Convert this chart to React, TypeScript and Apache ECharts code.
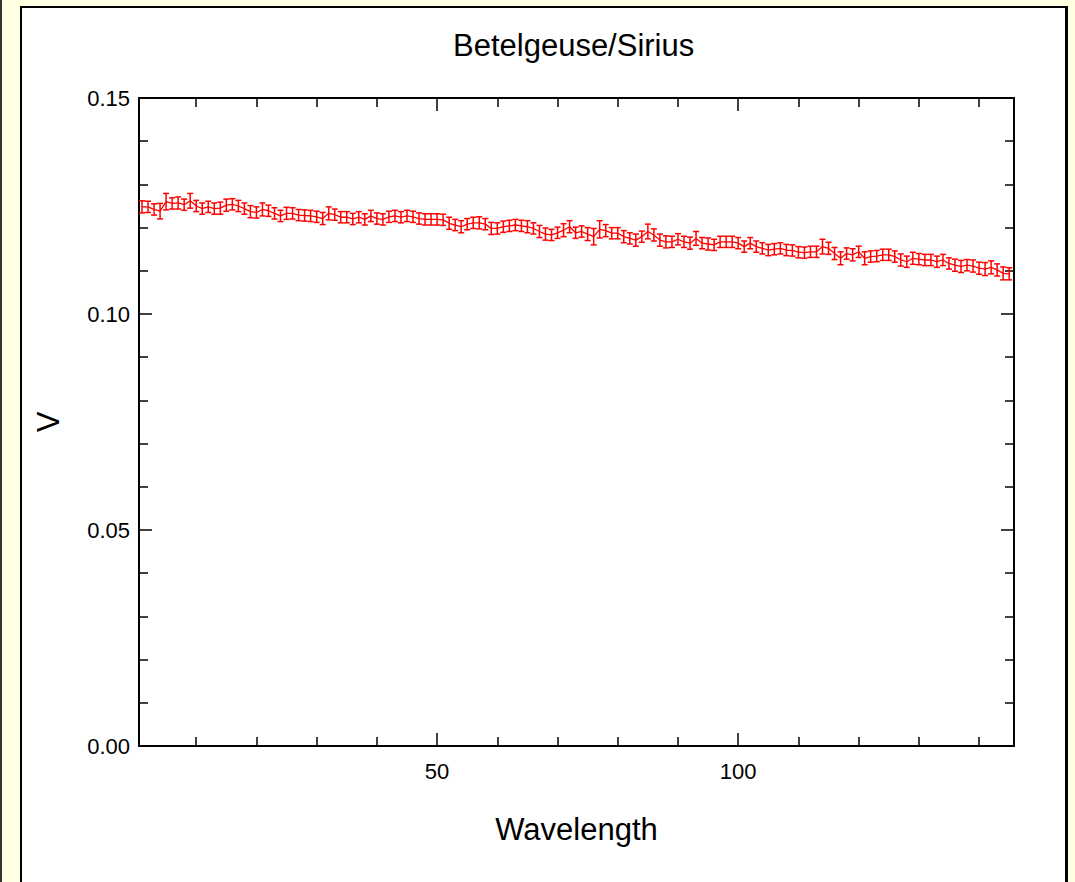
import React, { useEffect, useRef } from "react";
import * as echarts from "echarts";

const TITLE = "Betelgeuse/Sirius";
const X_NAME = "Wavelength";
const Y_NAME = "V";

const values: number[] = [
  0.1248, 0.1248, 0.1242, 0.1238, 0.126, 0.1256, 0.1257, 0.1253, 0.1262, 0.125,
  0.1244, 0.1248, 0.1244, 0.1245, 0.1252, 0.1254, 0.125, 0.1244, 0.1237, 0.1235,
  0.1242, 0.1239, 0.1233, 0.1227, 0.1233, 0.1233, 0.1229, 0.1228, 0.1227, 0.1225,
  0.1221, 0.1233, 0.123, 0.1224, 0.1224, 0.122, 0.1224, 0.1219, 0.1227, 0.1221,
  0.1219, 0.1225, 0.1227, 0.1224, 0.1227, 0.1225, 0.1221, 0.1219, 0.1219, 0.1219,
  0.1218, 0.121, 0.1206, 0.1202, 0.1208, 0.1211, 0.1211, 0.1208, 0.1198, 0.1198,
  0.1202, 0.1204, 0.1206, 0.1204, 0.1202, 0.1198, 0.1191, 0.1185, 0.1183, 0.1188,
  0.1194, 0.1202, 0.1188, 0.1191, 0.1185, 0.1179, 0.1196, 0.1193, 0.1187, 0.1187,
  0.1179, 0.1175, 0.1171, 0.1179, 0.1191, 0.1183, 0.1171, 0.1167, 0.1167, 0.1173,
  0.1167, 0.1164, 0.1175, 0.1164, 0.1162, 0.116, 0.1167, 0.1167, 0.1167, 0.1164,
  0.1156, 0.1164, 0.1156, 0.1152, 0.1148, 0.115, 0.1152, 0.1148, 0.1147, 0.1143,
  0.1142, 0.1144, 0.1144, 0.1156, 0.1152, 0.114, 0.1129, 0.114, 0.1137, 0.1144,
  0.1129, 0.1133, 0.1134, 0.1137, 0.1137, 0.1133, 0.1125, 0.1121, 0.1129, 0.1127,
  0.1125, 0.1125, 0.1121, 0.1125, 0.1117, 0.1113, 0.111, 0.1113, 0.1111, 0.1106,
  0.1104, 0.1108, 0.1102, 0.1094, 0.1093,
];

const errors: number[] = [
  0.0014, 0.0013, 0.0013, 0.0018, 0.0019, 0.0013, 0.0014, 0.0013, 0.0017, 0.0013,
  0.0013, 0.0013, 0.0013, 0.0014, 0.0014, 0.0013, 0.0013, 0.0013, 0.0014, 0.0013,
  0.0015, 0.0013, 0.0013, 0.0013, 0.0014, 0.0013, 0.0013, 0.0013, 0.0013, 0.0013,
  0.0014, 0.0015, 0.0013, 0.0013, 0.0013, 0.0013, 0.0013, 0.0013, 0.0013, 0.0013,
  0.0013, 0.0013, 0.0013, 0.0013, 0.0013, 0.0013, 0.0013, 0.0013, 0.0013, 0.0013,
  0.0013, 0.0014, 0.0013, 0.0014, 0.0013, 0.0013, 0.0014, 0.0013, 0.0014, 0.0013,
  0.0013, 0.0013, 0.0013, 0.0013, 0.0014, 0.0013, 0.0014, 0.0014, 0.0013, 0.0013,
  0.0015, 0.0014, 0.0013, 0.0013, 0.0015, 0.0019, 0.0020, 0.0014, 0.0013, 0.0013,
  0.0014, 0.0013, 0.0014, 0.0013, 0.0017, 0.0014, 0.0014, 0.0014, 0.0013, 0.0013,
  0.0013, 0.0014, 0.0016, 0.0013, 0.0014, 0.0013, 0.0013, 0.0013, 0.0013, 0.0013,
  0.0013, 0.0013, 0.0013, 0.0013, 0.0013, 0.0013, 0.0013, 0.0013, 0.0013, 0.0013,
  0.0013, 0.0013, 0.0013, 0.0017, 0.0014, 0.0014, 0.0015, 0.0013, 0.0014, 0.0013,
  0.0015, 0.0013, 0.0013, 0.0013, 0.0013, 0.0013, 0.0014, 0.0013, 0.0014, 0.0013,
  0.0013, 0.0013, 0.0013, 0.0013, 0.0013, 0.0014, 0.0014, 0.0013, 0.0014, 0.0014,
  0.0015, 0.0015, 0.0014, 0.0015, 0.0014,
];

const X_MIN = 0.5;
const X_MAX = 145.8;
const Y_MIN = 0;
const Y_MAX = 0.15;
const Y_INTERVAL = 0.05;
const X_MAJOR = [50, 100];
const X_MINOR = [10, 20, 30, 40, 60, 70, 80, 90, 110, 120, 130, 140];

const RED = "#ff0000";
const FONT = "'Liberation Sans', Arial, sans-serif";

export default function App() {
  const ref = useRef<HTMLDivElement>(null);

  useEffect(() => {
    if (!ref.current) return;
    const chart = echarts.init(ref.current, null, { renderer: "svg" });

    const lineData = values.map((v, i) => [i + 1, v]);
    const errData = values.map((v, i) => [i + 1, v - errors[i], v + errors[i]]);

    const axisLine = { show: true, lineStyle: { color: "#000", width: 2 } };

    const xBase = {
      type: "value",
      min: X_MIN,
      max: X_MAX,
      splitLine: { show: false },
      gridIndex: 0,
    };

    const yBase = {
      type: "value",
      min: Y_MIN,
      max: Y_MAX,
      interval: Y_INTERVAL,
      splitLine: { show: false },
      axisLine,
      axisTick: { show: true, inside: true, length: 13, lineStyle: { color: "#000", width: 1.5 } },
      minorTick: { show: true, splitNumber: 5, length: 9, lineStyle: { color: "#000", width: 1.5 } },
      minorSplitLine: { show: false },
    };

    chart.setOption({
      animation: false,
      backgroundColor: "transparent",
      grid: { left: 139, right: 61, top: 98, bottom: 136, containLabel: false },
      graphic: [
        {
          type: "text",
          left: 453,
          top: 30,
          style: {
            text: TITLE,
            fill: "#000",
            font: `31px ${FONT}`,
          },
        },
      ],
      xAxis: [
        {
          ...xBase,
          position: "bottom",
          axisLine,
          axisTick: {
            show: true,
            inside: true,
            length: 13,
            customValues: X_MAJOR,
            lineStyle: { color: "#000", width: 1.5 },
          },
          axisLabel: {
            show: true,
            customValues: X_MAJOR,
            color: "#000",
            fontFamily: FONT,
            fontSize: 22,
            margin: 14,
          },
          name: X_NAME,
          nameLocation: "middle",
          nameGap: 68,
          nameTextStyle: { color: "#000", fontFamily: FONT, fontSize: 31 },
        },
        {
          ...xBase,
          position: "bottom",
          axisLine: { show: false },
          axisTick: {
            show: true,
            inside: true,
            length: 9,
            customValues: X_MINOR,
            lineStyle: { color: "#000", width: 1.5 },
          },
          axisLabel: { show: false },
        },
        {
          ...xBase,
          position: "top",
          axisLine,
          axisTick: {
            show: true,
            inside: true,
            length: 13,
            customValues: X_MAJOR,
            lineStyle: { color: "#000", width: 1.5 },
          },
          axisLabel: { show: false },
        },
        {
          ...xBase,
          position: "top",
          axisLine: { show: false },
          axisTick: {
            show: true,
            inside: true,
            length: 9,
            customValues: X_MINOR,
            lineStyle: { color: "#000", width: 1.5 },
          },
          axisLabel: { show: false },
        },
      ],
      yAxis: [
        {
          ...yBase,
          position: "left",
          axisLabel: {
            show: true,
            color: "#000",
            fontFamily: FONT,
            fontSize: 22,
            margin: 9,
            formatter: (v: number) => v.toFixed(2),
          },
          name: Y_NAME,
          nameLocation: "middle",
          nameRotate: 90,
          nameGap: 75,
          nameTextStyle: { color: "#000", fontFamily: FONT, fontSize: 31 },
        },
        {
          ...yBase,
          position: "right",
          axisLabel: { show: false },
        },
      ],
      series: [
        {
          type: "line",
          data: lineData,
          xAxisIndex: 0,
          yAxisIndex: 0,
          symbol: "none",
          lineStyle: { color: RED, width: 1.3 },
          z: 3,
        },
        {
          type: "custom",
          data: errData,
          xAxisIndex: 0,
          yAxisIndex: 0,
          z: 4,
          renderItem: (params: any, api: any) => {
            const x = api.value(0);
            const lo = api.coord([x, api.value(1)]);
            const hi = api.coord([x, api.value(2)]);
            const hw = 3;
            const style = { stroke: RED, lineWidth: 1.5, fill: "none" };
            return {
              type: "group",
              children: [
                { type: "line", shape: { x1: lo[0], y1: lo[1], x2: hi[0], y2: hi[1] }, style },
                { type: "line", shape: { x1: lo[0] - hw, y1: lo[1], x2: lo[0] + hw, y2: lo[1] }, style },
                { type: "line", shape: { x1: hi[0] - hw, y1: hi[1], x2: hi[0] + hw, y2: hi[1] }, style },
              ],
            };
          },
        },
      ],
    });

    return () => chart.dispose();
  }, []);

  return (
    <div
      style={{
        position: "fixed",
        left: 0,
        top: 0,
        width: 1075,
        height: 882,
        background: "#ffffe1",
        overflow: "hidden",
      }}
    >
      <div style={{ position: "absolute", left: 0, top: 0, width: 2, height: 882, background: "#333" }} />
      <div
        style={{
          position: "absolute",
          left: 20,
          top: 6,
          width: 1043,
          height: 960,
          background: "#fff",
          borderLeft: "2px solid #000",
          borderTop: "2px solid #000",
          borderRight: "3px solid #000",
          borderBottom: "2px solid #000",
        }}
      />
      <div ref={ref} style={{ position: "absolute", left: 0, top: 0, width: 1075, height: 882 }} />
    </div>
  );
}
